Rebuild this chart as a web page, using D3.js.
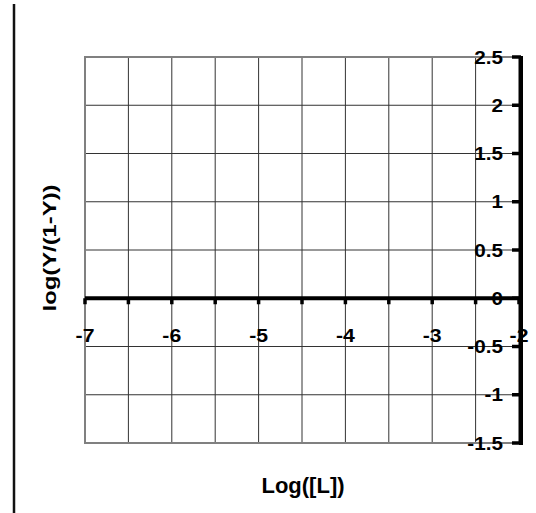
<!DOCTYPE html>
<html>
<head>
<meta charset="utf-8">
<script src="https://cdn.jsdelivr.net/npm/d3@7"></script>
<style>
  body { margin: 0; background: #fff; }
  text { font-family: "Liberation Sans", Arial, sans-serif; font-weight: bold; fill: #000; }
</style>
</head>
<body>
<script>
const width = 536
const height = 513

// axis ranges and tick values
const xDomain = [-7, -2]
const yDomain = [-1.5, 2.5]
const xGrid = [-7, -6.5, -6, -5.5, -5, -4.5, -4, -3.5, -3, -2.5, -2]
const yGrid = [2.5, 2, 1.5, 1, 0.5, 0, -0.5, -1, -1.5]
const xLabels = [-7, -6, -5, -4, -3, -2]
const yLabels = ['2.5', '2', '1.5', '1', '0.5', '0', '-0.5', '-1', '-1.5']

const x = d3.scaleLinear().domain(xDomain).range([85, 519])
const y = d3.scaleLinear().domain(yDomain).range([443, 57])

const svg = d3.select('body').append('svg')
    .attr('width', width)
    .attr('height', height)

// left frame line
svg.append('line')
    .attr('x1', 14).attr('x2', 14)
    .attr('y1', 4).attr('y2', height)
    .style('stroke', '#111')
    .style('stroke-width', 2.5)

// gridlines
svg.selectAll('.vgrid').data(xGrid).enter().append('line')
    .attr('x1', d => x(d)).attr('x2', d => x(d))
    .attr('y1', y(2.5)).attr('y2', y(-1.5))
    .style('stroke', '#333')
    .style('stroke-width', 1)

svg.selectAll('.hgrid').data(yGrid).enter().append('line')
    .attr('x1', x(-7)).attr('x2', x(-2))
    .attr('y1', d => y(d)).attr('y2', d => y(d))
    .style('stroke', '#333')
    .style('stroke-width', 1)

// plot border
svg.append('rect')
    .attr('x', x(-7)).attr('y', y(2.5))
    .attr('width', x(-2) - x(-7))
    .attr('height', y(-1.5) - y(2.5))
    .style('fill', 'none')
    .style('stroke', '#808080')
    .style('stroke-width', 2)

// x axis at y = 0
svg.append('line')
    .attr('x1', x(-7)).attr('x2', x(-2) + 3)
    .attr('y1', y(0)).attr('y2', y(0))
    .style('stroke', '#000')
    .style('stroke-width', 4)

svg.selectAll('.xtick').data(xGrid).enter().append('line')
    .attr('x1', d => x(d)).attr('x2', d => x(d))
    .attr('y1', y(0)).attr('y2', y(0) + 6)
    .style('stroke', '#000')
    .style('stroke-width', 3.5)

// y axis at x = -2
const yAxisX = x(-2) + 2
svg.append('line')
    .attr('x1', yAxisX).attr('x2', yAxisX)
    .attr('y1', y(2.5) - 1).attr('y2', y(-1.5) + 2)
    .style('stroke', '#000')
    .style('stroke-width', 4)

svg.selectAll('.ytick').data(yGrid).enter().append('line')
    .attr('x1', yAxisX - 9).attr('x2', yAxisX)
    .attr('y1', d => y(d)).attr('y2', d => y(d))
    .style('stroke', '#000')
    .style('stroke-width', 3.5)

// tick labels (they look horizontally stretched in the original)
svg.selectAll('.xlab').data(xLabels).enter().append('text')
    .attr('transform', d => `translate(${x(d)},341.5) scale(1.18,1)`)
    .attr('text-anchor', 'middle')
    .style('font-size', '18px')
    .text(d => d)

svg.selectAll('.ylab').data(yGrid).enter().append('text')
    .attr('transform', d => `translate(503,${y(d) + 6.5}) scale(1.15,1)`)
    .attr('text-anchor', 'end')
    .style('font-size', '18px')
    .text((d, i) => yLabels[i])

// axis titles
svg.append('text')
    .attr('x', 303).attr('y', 493)
    .attr('text-anchor', 'middle')
    .style('font-size', '22px')
    .text('Log([L])')

svg.append('text')
    .attr('transform', 'translate(56,248) rotate(-90)')
    .attr('text-anchor', 'middle')
    .attr('textLength', 127)
    .attr('lengthAdjust', 'spacingAndGlyphs')
    .style('font-size', '19px')
    .text('log(Y/(1-Y))')
</script>
</body>
</html>
